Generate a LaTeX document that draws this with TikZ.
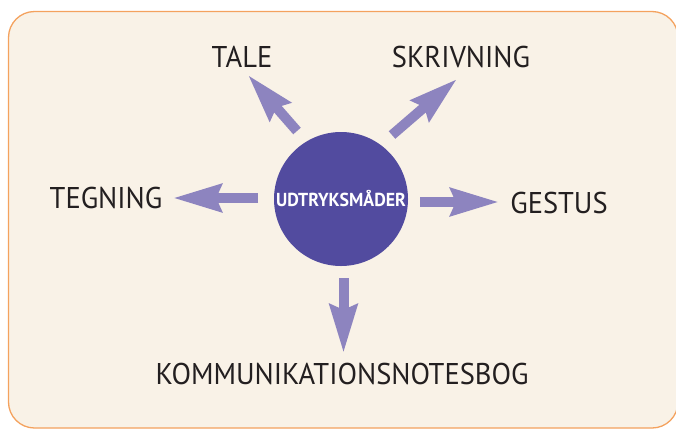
\documentclass[tikz,border=0pt]{standalone}
\usepackage{fontspec}
\setmainfont{PT Sans}[FakeStretch=0.95]
\usetikzlibrary{arrows.meta}
\definecolor{panel}{HTML}{F9F2E7}
\definecolor{panelrim}{HTML}{F4A25E}
\definecolor{hub}{HTML}{524B9F}
\definecolor{spoke}{HTML}{8D84BF}
\definecolor{ink}{HTML}{231F20}
\tikzset{
  label/.style={text=ink, inner sep=0pt, font=\fontsize{30}{33}\selectfont},
  fatarrow/.style={draw=spoke, line width=10pt,
    -{Stealth[length=48pt, width=27pt, inset=5pt]}},
}
\begin{document}
\begin{tikzpicture}[x=1pt, y=-1pt]
  \useasboundingbox (0,0) rectangle (676,429);
  % panel
  \draw[panelrim, fill=panel, line width=1.3pt, rounded corners=26pt]
    (8.5,11.5) rectangle (678,428);
  % central hub
  \node[circle, fill=hub, minimum size=134pt, inner sep=0pt,
        text=white, font=\bfseries\fontsize{18.8}{21}\selectfont] (hub) at (341,199)
        {UDTRYKSMÅDER};
  % labels
  \node[label] (tale) at (242,57) {TALE};
  \node[label] (skriv) at (461,57) {SKRIVNING};
  \node[label] (tegn) at (106,198) {TEGNING};
  \node[label] (gest) at (559,203) {GESTUS};
  \node[label] (komm) at (342,374) {KOMMUNIKATIONSNOTESBOG};
  % arrow ends
  \coordinate (taleTail) at (297,131);
  \coordinate (taleTip) at (248,75);
  \coordinate (skrivTail) at (392,135);
  \coordinate (skrivTip) at (457,79);
  \coordinate (tegnTail) at (258,198);
  \coordinate (tegnTip) at (173,198);
  \coordinate (gestTail) at (420,202);
  \coordinate (gestTip) at (499,202);
  \coordinate (kommTail) at (343.5,278);
  \coordinate (kommTip) at (343.5,353);
  % spokes
  \draw[fatarrow] (taleTail) -- (taleTip);
  \draw[fatarrow] (skrivTail) -- (skrivTip);
  \draw[fatarrow] (tegnTail) -- (tegnTip);
  \draw[fatarrow] (gestTail) -- (gestTip);
  \draw[fatarrow] (kommTail) -- (kommTip);
\end{tikzpicture}
\end{document}
